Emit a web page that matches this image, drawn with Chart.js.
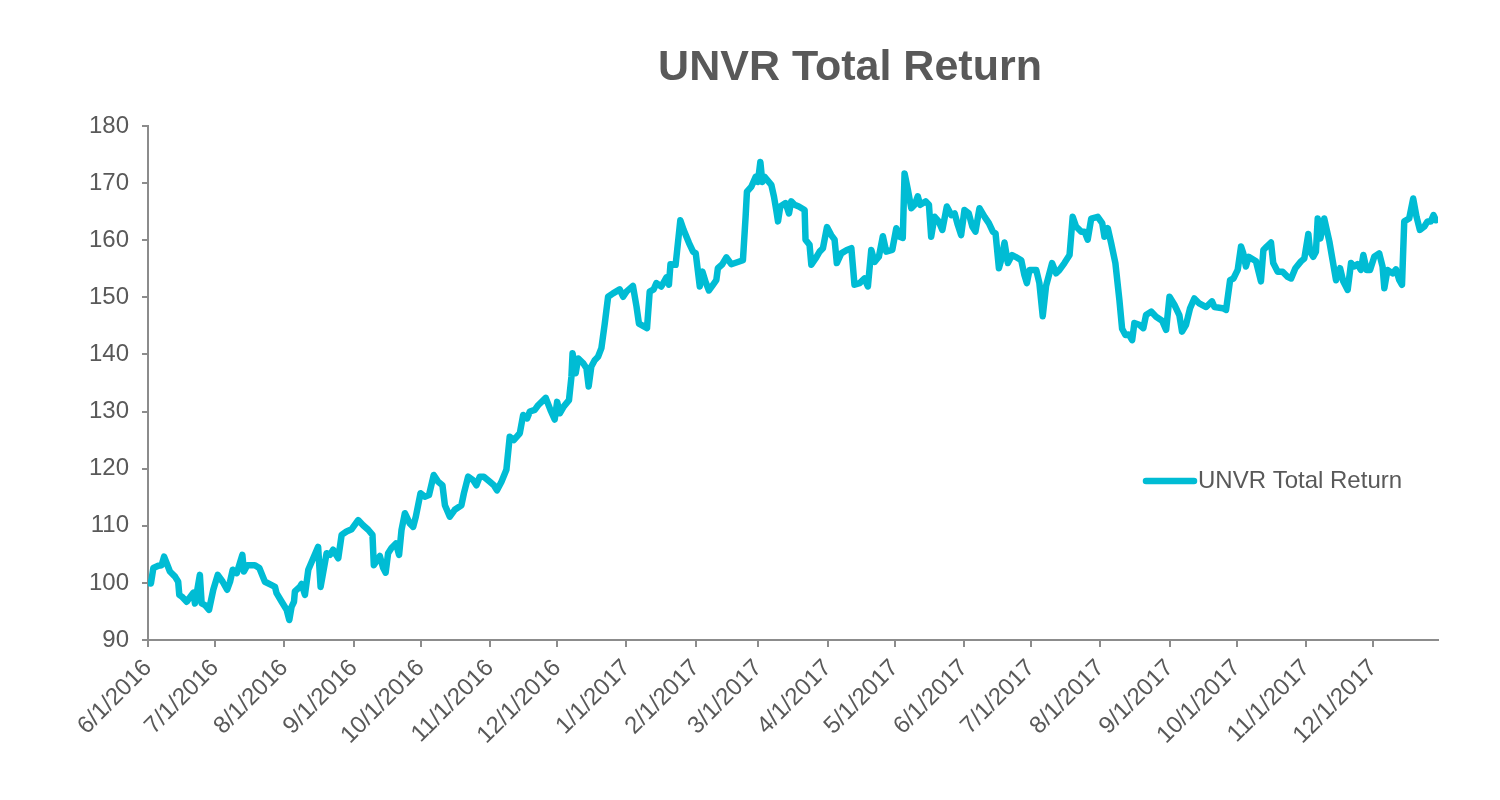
<!DOCTYPE html>
<html>
<head>
<meta charset="utf-8">
<script src="https://cdn.jsdelivr.net/npm/chart.js@4.4.0/dist/chart.umd.min.js"></script>
<style>
  html, body { margin: 0; padding: 0; background: #fff; }
  #wrap { width: 1500px; height: 800px; }
</style>
</head>
<body>
<div id="wrap"><canvas id="returnChart" width="1500" height="800"></canvas></div>
<script>
// day offsets from 6/1/2016 and the total return
const dayOffsets = [
  0, 1.3, 2.4, 4.6, 6.1, 7.2, 8.4, 9.8, 12.1, 13.5, 14.0, 15.1, 17.3, 18.8, 20.3, 21.0, 23.2, 24.0, 25.5, 27.3, 29.2, 31.2, 33.4, 35.4, 36.7, 37.9, 39.7, 42.2, 42.9, 44.4, 47.8, 49.8, 52.3, 55.3, 56.8, 57.5, 59.8, 62.0, 63.2, 64.2, 65.3, 65.7, 67.9,
  68.7, 70.2, 71.7, 73.9, 76.1, 77.2, 79.9, 81.4, 82.8, 85.1, 86.6, 88.8, 91.1, 94.0, 96.2, 98.5, 100.4, 101.0, 103.7, 105.2, 106.3, 107.4, 108.9, 110.9, 112.3, 113.4, 114.9, 117.1, 118.6, 119.8, 121.9, 123.8, 125.7, 127.8, 129.8, 131.7, 132.8,
  135.0, 137.2, 140.2, 141.3, 143.2, 145.4, 146.9, 148.4, 150.2, 152.9, 154.7, 156.1, 158.1, 160.3, 161.8, 163.6, 166.3, 167.8, 169.6, 170.8, 173.0, 174.5, 177.9, 180.0, 181.9, 183.0, 184.2, 186.0, 188.3, 189.4, 189.9, 191.3, 192.4, 194.6, 196.1, 197.1, 198.3, 199.8, 201.3,
  202.8, 204.3, 205.8, 208.0, 211.0, 212.5, 214.0, 216.9, 218.5, 219.6, 221.4, 223.2, 224.4, 226.2, 227.4, 229.6, 231.9, 233.0, 233.7, 236.0, 238.1, 239.6, 242.0, 243.8, 245.0, 246.8, 248.0, 249.4, 250.9, 252.7, 254.2, 254.9, 256.9, 258.7, 260.9, 263.2, 266.1,
  267.3, 267.9, 269.9, 271.8, 272.8, 273.9, 274.8, 275.8, 278.8, 280.0, 281.0, 281.8, 282.8, 285.2, 286.7, 287.7, 289.2, 291.1, 293.7, 294.1, 295.9, 296.7, 298.6, 300.4, 301.9, 303.7, 305.6, 307.1, 308.1, 310.1, 312.6, 314.6, 316.0, 318.3, 320.5, 322.0, 323.5, 325.0, 326.9, 328.7, 330.2, 332.9, 334.7,
  336.2, 337.6, 338.4, 339.9, 341.4, 342.9, 344.3, 345.4, 347.8, 349.3, 350.3, 351.8, 353.7, 355.3, 357.3, 359.3, 360.8, 362.2, 363.7, 365.2, 367.1, 368.7, 370.1, 371.9, 374.2, 376.1, 377.9, 379.1, 380.6, 381.6, 383.1, 384.6, 386.5, 388.0, 390.6, 392.0, 393.1, 394.3, 397.3, 398.7, 400.2, 401.7,
  404.4, 406.2, 407.7, 409.9, 412.2, 413.6, 415.1, 417.4, 418.9, 420.3, 421.9, 424.8, 426.8, 427.8, 429.3, 430.8, 432.7, 434.5, 435.7, 437.2, 438.7, 440.2, 441.2, 443.4, 445.2, 446.4, 448.7, 450.9, 453.6, 455.4, 456.9, 459.1, 461.3, 462.5, 464.3, 466.1, 468.0, 470.0,
  473.3, 475.9, 477.0, 480.7, 482.2, 484.0, 485.5, 487.4, 488.9, 489.9, 491.1, 492.3, 495.6, 497.8, 498.9, 500.4, 502.3, 503.3, 505.3, 507.5, 509.7, 511.3, 513.2, 515.7, 517.2, 519.0, 519.8, 521.2, 522.4, 523.2, 524.4, 526.1, 528.4, 531.4,
  533.2, 534.6, 536.6, 538.1, 539.6, 541.0, 542.5, 543.6, 545.1, 546.6, 548.5, 550.7, 552.2, 553.0, 554.4, 556.7, 558.2, 559.7, 560.9, 561.9, 564.1, 565.9, 567.4, 568.9, 570.9, 572.3, 573.8, 575.0, 576.1
];
const totalReturn = [
  100.0, 99.9, 102.6, 103.0, 103.1, 104.6, 103.4, 102.0, 101.1, 100.2, 97.9, 97.6, 96.7, 97.5, 98.3, 96.4, 101.4, 96.4, 96.1, 95.3, 98.8, 101.4, 100.2, 98.8, 100.2, 102.3, 101.7, 104.9, 102.0, 103.1, 103.1, 102.6, 100.2, 99.6, 99.3, 98.2, 96.7, 95.3, 93.5, 95.8, 96.7, 98.5, 99.3,
  99.8, 97.9, 102.3, 104.3, 106.3, 99.3, 105.2, 104.9, 105.8, 104.3, 108.4, 109.0, 109.4, 111.0, 110.1, 109.3, 108.4, 103.1, 104.7, 102.6, 101.8, 105.2, 106.1, 106.9, 104.9, 109.3, 112.2, 110.4, 109.8, 111.6, 115.7, 115.1, 115.4, 118.9, 117.7, 117.1, 113.6,
  111.6, 112.8, 113.6, 115.7, 118.6, 118.0, 117.1, 118.6, 118.6, 117.7, 117.1, 116.2, 117.7, 119.8, 125.6, 125.0, 126.2, 129.4, 128.8, 130.0, 130.3, 131.1, 132.4, 130.3, 128.6, 131.7, 129.7, 130.9, 132.0, 136.1, 140.2, 136.7, 139.3, 138.5, 137.6, 134.4, 137.9, 139.0, 139.6,
  141.1, 145.4, 150.1, 150.7, 151.4, 150.1, 151.0, 152.0, 148.4, 145.4, 145.0, 144.6, 151.0, 151.4, 152.5, 151.9, 153.5, 152.2, 155.8, 155.7, 163.5, 161.8, 159.5, 158.0, 157.7, 151.9, 154.5, 152.7, 151.2, 152.2, 153.0, 155.1, 155.8, 157.0, 155.8, 156.1, 156.5,
  164.1, 168.5, 169.4, 171.1, 170.2, 173.7, 170.2, 171.1, 169.7, 167.6, 165.3, 163.3, 165.9, 166.5, 164.7, 166.8, 166.2, 165.9, 165.3, 160.1, 159.2, 155.7, 156.8, 158.0, 158.6, 162.3, 160.9, 160.1, 156.0, 157.7, 158.3, 158.6, 152.2, 152.5, 153.3, 151.9, 158.3, 156.2, 157.1, 160.7, 158.0, 158.3, 162.1,
  160.6, 160.4, 171.7, 168.8, 165.6, 166.2, 167.7, 166.2, 166.8, 166.2, 160.6, 164.1, 163.3, 161.8, 165.9, 164.4, 164.7, 162.7, 160.9, 165.3, 164.7, 162.4, 161.5, 165.6, 164.1, 163.0, 161.5, 161.2, 155.1, 156.5, 159.6, 156.0, 157.4, 157.1, 156.5, 153.9, 152.5, 154.8, 154.8, 152.5, 146.7, 152.0,
  156.0, 154.2, 154.8, 156.0, 157.4, 164.1, 162.4, 161.5, 161.5, 160.1, 163.8, 164.1, 163.0, 160.6, 162.1, 159.5, 156.0, 149.5, 144.5, 143.4, 143.5, 142.5, 145.5, 145.2, 144.6, 146.9, 147.5, 146.6, 145.9, 144.3, 150.1, 148.7, 146.9, 144.0, 145.2, 148.1, 149.8, 149.0,
  148.3, 149.3, 148.3, 148.1, 147.8, 153.0, 153.3, 154.8, 158.9, 157.7, 155.4, 157.1, 156.3, 152.8, 158.3, 158.9, 159.6, 156.0, 154.5, 154.5, 153.6, 153.3, 155.1, 156.3, 156.8, 161.1, 158.0, 157.1, 158.0, 163.8, 160.3, 163.8, 159.8, 153.0,
  155.1, 152.8, 151.3, 156.0, 155.4, 155.8, 154.8, 157.4, 154.8, 154.8, 157.1, 157.7, 155.4, 151.6, 154.8, 154.2, 154.9, 153.0, 152.2, 163.3, 163.8, 167.3, 164.1, 161.8, 162.4, 163.3, 163.3, 164.4, 163.5
];

// month starts as day offsets, and their labels
const monthTicks = [0, 30, 61, 92, 122, 153, 183, 214, 245, 273, 304, 334, 365, 395, 426, 457, 487, 518, 548];
const monthLabels = ["6/1/2016", "7/1/2016", "8/1/2016", "9/1/2016", "10/1/2016", "11/1/2016", "12/1/2016",
  "1/1/2017", "2/1/2017", "3/1/2017", "4/1/2017", "5/1/2017", "6/1/2017", "7/1/2017", "8/1/2017", "9/1/2017",
  "10/1/2017", "11/1/2017", "12/1/2017"];
const lastDay = 577;

const seriesName = "UNVR Total Return";
const titleText = "UNVR Total Return";
const lineColor = "#00BCD4";
const textColor = "#595959";
const axisColor = "#8c8c8c";
const fontFamily = "'Liberation Sans', Arial, sans-serif";

const titleAndLegend = {
  id: "titleAndLegend",
  afterDraw(chart) {
    const ctx = chart.ctx;
    ctx.save();
    ctx.fillStyle = textColor;
    ctx.font = "bold 43px " + fontFamily;
    ctx.textAlign = "center";
    ctx.textBaseline = "alphabetic";
    ctx.fillText(titleText, 850, 80);

    ctx.strokeStyle = lineColor;
    ctx.lineWidth = 6.5;
    ctx.lineCap = "round";
    ctx.beginPath();
    ctx.moveTo(1146, 481);
    ctx.lineTo(1194, 481);
    ctx.stroke();

    ctx.font = "24px " + fontFamily;
    ctx.textAlign = "left";
    ctx.textBaseline = "middle";
    ctx.fillText(seriesName, 1198, 481);
    ctx.restore();
  }
};

let ctx = document.getElementById("returnChart");
let returnChart = new Chart(ctx, {
  type: "line",
  data: {
    datasets: [
      {
        label: seriesName,
        data: dayOffsets.map((d, i) => ({ x: d, y: totalReturn[i] })),
        borderColor: lineColor,
        borderWidth: 6.5,
        borderJoinStyle: "round",
        borderCapStyle: "round",
        pointRadius: 0,
        tension: 0,
        fill: false
      }
    ]
  },
  options: {
    responsive: false,
    animation: false,
    layout: {
      padding: { top: 126, right: 62, bottom: 0, left: 0 }
    },
    plugins: {
      legend: { display: false },
      title: { display: false },
      tooltip: { enabled: false }
    },
    scales: {
      x: {
        type: "linear",
        min: 0,
        max: lastDay,
        afterBuildTicks: scale => {
          scale.ticks = monthTicks.map(v => ({ value: v }));
        },
        afterFit: scale => {
          scale.height = 160;
        },
        ticks: {
          autoSkip: false,
          minRotation: 45,
          maxRotation: 45,
          padding: 7,
          color: textColor,
          font: { family: fontFamily, size: 24 },
          callback: (value) => {
            const i = monthTicks.indexOf(value);
            return i >= 0 ? monthLabels[i] : "";
          }
        },
        grid: {
          drawOnChartArea: false,
          drawTicks: true,
          tickLength: 7,
          color: axisColor,
          lineWidth: 2
        },
        border: { display: true, color: axisColor, width: 2 }
      },
      y: {
        min: 90,
        max: 180,
        afterFit: scale => {
          scale.width = 148;
        },
        ticks: {
          stepSize: 10,
          padding: 13,
          color: textColor,
          font: { family: fontFamily, size: 24 }
        },
        grid: {
          drawOnChartArea: false,
          drawTicks: true,
          tickLength: 6,
          color: axisColor,
          lineWidth: 2
        },
        border: { display: true, color: axisColor, width: 2 }
      }
    }
  },
  plugins: [titleAndLegend]
});
</script>
</body>
</html>
